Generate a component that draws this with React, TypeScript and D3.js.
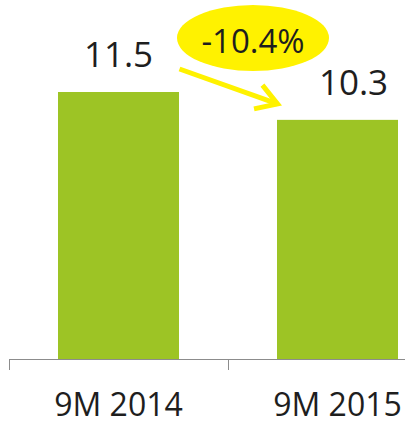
import React from "react";
import * as d3 from "d3";

const categories = ["9M 2014", "9M 2015"];
const values = [11.5, 10.3];
const changeLabel = "-10.4%";

const W = 405;
const H = 424;

export default function App() {
  const x = d3.scaleBand<string>().domain(categories).range([9, 447]).paddingInner(0).paddingOuter(0);
  const barW = 121;
  const y = d3.scaleLinear().domain([0, 11.5]).range([359, 92]);
  const font = "'Open Sans', sans-serif";
  const labelDx = [0, 16];
  const x0 = (x(categories[0]) as number) + x.bandwidth() / 2;
  const x1 = (x(categories[1]) as number) + x.bandwidth() / 2;
  const ax0 = x0 + 61, ay0 = y(values[0]) - 23;
  const ax1 = x1 - 60, ay1 = y(values[1]) - 16;
  const ang = Math.atan2(ay1 - ay0, ax1 - ax0);
  const head = 24;
  const h1 = [ax1 - head * Math.cos(ang - 0.55), ay1 - head * Math.sin(ang - 0.55)];
  const h2 = [ax1 - head * Math.cos(ang + 0.55), ay1 - head * Math.sin(ang + 0.55)];
  return (
    <svg width={W} height={H} style={{ position: "absolute", left: 0, top: 0, background: "#fff" }}>
      {categories.map((c, i) => {
        const cx = (x(c) as number) + x.bandwidth() / 2;
        return (
          <g key={c}>
            <rect x={cx - barW / 2} y={y(values[i])} width={barW} height={y(0) - y(values[i])} fill="#9dc425" />
            <text x={cx + labelDx[i]} y={y(values[i]) - 25} textAnchor="middle" fontFamily={font} fontSize={35} fill="#1e1e1e">
              {values[i].toFixed(1)}
            </text>
            <text x={cx} y={416} textAnchor="middle" fontFamily={font} fontSize={32} fill="#1e1e1e">
              {c}
            </text>
          </g>
        );
      })}
      <line x1={9} x2={W} y1={359.5} y2={359.5} stroke="#8c8c8c" strokeWidth={1} />
      {[9, x(categories[1]) as number].map((t, i) => (
        <line key={i} x1={t + 0.5} x2={t + 0.5} y1={359} y2={370} stroke="#8c8c8c" strokeWidth={1} />
      ))}
      <ellipse cx={253} cy={38} rx={76} ry={33} fill="#fff200" />
      <text x={253} y={53} textAnchor="middle" fontFamily={font} fontSize={33} fill="#1e1e1e">
        {changeLabel}
      </text>
      <g stroke="#fff200" strokeWidth={5} strokeLinecap="butt" fill="none">
        <line x1={ax0} y1={ay0} x2={ax1} y2={ay1} />
        <polyline points={`${h1[0]},${h1[1]} ${ax1},${ay1} ${h2[0]},${h2[1]}`} />
      </g>
    </svg>
  );
}
